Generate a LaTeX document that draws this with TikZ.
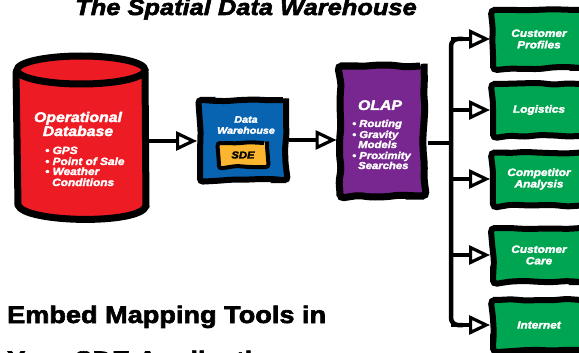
\documentclass[tikz,border=0pt]{standalone}
\usepackage{fontspec}
\setmainfont{Liberation Sans}[BoldFeatures={FakeBold=2.5,FakeStretch=1.13},BoldItalicFeatures={FakeBold=2.5,FakeStretch=1.13}]
\usetikzlibrary{arrows.meta,decorations.pathmorphing,calc}
\definecolor{dbred}{HTML}{ED1C24}
\definecolor{dwblue}{HTML}{0864B1}
\definecolor{sdeyel}{HTML}{FBB52E}
\definecolor{olappur}{HTML}{77278F}
\definecolor{ggreen}{HTML}{00A551}
\tikzset{
  sketch/.style={decorate, decoration={random steps, segment length=14pt, amplitude=1.1pt}},
  gbox/.style={fill=ggreen, draw=black, line width=6pt, rounded corners=4pt, minimum width=92pt,
    inner sep=0pt, text=white, font=\bfseries\itshape\fontsize{10.5}{11.5}\selectfont, align=center},
  arr/.style={line width=4.5pt, -{Triangle[open, length=21pt, width=19pt, line width=3.2pt]}},
  busline/.style={line width=4.5pt, rounded corners=7pt},
  wtxt/.style={text=white, font=\bfseries\itshape, align=left, inner sep=0pt},
}
\begin{document}
\pgfmathsetseed{7}
\begin{tikzpicture}[x=1pt, y=-1pt]
\useasboundingbox (0,0) rectangle (579,353);
\clip (0,0) rectangle (579,353);
% title
\node[anchor=base, font=\bfseries\itshape\fontsize{22.5}{22.5}\selectfont, inner sep=0] (title) at (246,15) {The Spatial Data Warehouse};
% operational database cylinder
\fill[dbred] (16,70) -- (17,205) .. controls (22,224) and (140,226) .. (146,206) -- (146,70) arc[start angle=0, end angle=-180, x radius=65, y radius=15] -- cycle;
\draw[line width=7pt, line cap=round] (16,72) -- (18,205) .. controls (24,223) and (140,225) .. (146,206) -- (145,72);
\draw[line width=7pt] (81,70) ellipse [x radius=64, y radius=14];
\node[minimum width=132pt, minimum height=165pt, inner sep=0] (db) at (81,139) {};
\node[wtxt, align=center, font=\bfseries\itshape\fontsize{14}{14}\selectfont, anchor=base] (dbt1) at (78,122) {Operational};
\node[wtxt, align=center, font=\bfseries\itshape\fontsize{14}{14}\selectfont, anchor=base] (dbt2) at (78,136) {Database};
\node[wtxt, font=\bfseries\itshape\fontsize{10.5}{10.5}\selectfont, anchor=base west] (dbb1) at (45,154) {\textbullet\ GPS};
\node[wtxt, font=\bfseries\itshape\fontsize{10.5}{10.5}\selectfont, anchor=base west] (dbb2) at (45,165) {\textbullet\ Point of Sale};
\node[wtxt, font=\bfseries\itshape\fontsize{10.5}{10.5}\selectfont, anchor=base west] (dbb3) at (45,175) {\textbullet\ Weather};
\node[wtxt, font=\bfseries\itshape\fontsize{10.5}{10.5}\selectfont, anchor=base west] (dbb4) at (52,186) {Conditions};
% data warehouse
\node[sketch, fill=dwblue, draw=black, line width=6pt, rounded corners=3pt, minimum width=86pt, minimum height=80pt, inner sep=0] (dw) at (243,140) {};
\node[wtxt, align=center, font=\bfseries\itshape\fontsize{9.5}{11}\selectfont] (dwt) at (246,125) {Data\\Warehouse};
\node[sketch, fill=sdeyel, draw=black, line width=4pt, rounded corners=3pt, minimum width=48pt, minimum height=24pt, inner sep=0,
  font=\bfseries\itshape\fontsize{10}{10}\selectfont] (sde) at (243,155) {SDE};
% OLAP
\node[sketch, fill=olappur, draw=black, line width=7pt, rounded corners=4pt, minimum width=84pt, minimum height=130pt, inner sep=0] (olap) at (382,131) {};
\node[wtxt, font=\bfseries\itshape\fontsize{14}{14}\selectfont, anchor=base] (olapt) at (380,110) {OLAP};
\node[wtxt, font=\bfseries\itshape\fontsize{10}{10}\selectfont, anchor=base west] (ob1) at (352,127) {\textbullet\ Routing};
\node[wtxt, font=\bfseries\itshape\fontsize{10}{10}\selectfont, anchor=base west] (ob2) at (352,138) {\textbullet\ Gravity};
\node[wtxt, font=\bfseries\itshape\fontsize{10}{10}\selectfont, anchor=base west] (ob3) at (358,148) {Models};
\node[wtxt, font=\bfseries\itshape\fontsize{10}{10}\selectfont, anchor=base west] (ob4) at (352,159) {\textbullet\ Proximity};
\node[wtxt, font=\bfseries\itshape\fontsize{10}{10}\selectfont, anchor=base west] (ob5) at (358,169) {Searches};
% green targets
\node[gbox, sketch, minimum height=58pt] (cp) at (539,39) {Customer\\Profiles};
\node[gbox, sketch, minimum height=52pt] (log) at (539,110) {Logistics};
\node[gbox, sketch, minimum height=53pt] (comp) at (539,179) {Competitor\\Analysis};
\node[gbox, sketch, minimum height=54pt] (care) at (539,255) {Customer\\Care};
\node[gbox, sketch, minimum height=50pt] (inet) at (539,325) {Internet};
% connectors
\draw[arr] (db.east |- 0,141) -- (dw.west |- 0,141);
\draw[arr] (dw.east |- 0,140) -- (olap.west |- 0,140);
\coordinate (bus) at (451,143);
\draw[line width=4.5pt] (olap.east |- bus) -- (bus);
\draw[busline] ([xshift=12pt]bus |- cp.west) -| (bus |- inet.west) -- ([xshift=12pt]bus |- inet.west);
\draw[arr] (bus |- cp.west) -- (cp.west);
\draw[arr] (bus |- log.west) -- (log.west);
\draw[arr] (bus |- comp.west) -- (comp.west);
\draw[arr] (bus |- care.west) -- (care.west);
\draw[arr] (bus |- inet.west) -- (inet.west);
% bottom text
\node[anchor=base west, font=\bfseries\fontsize{24}{24}\selectfont, inner sep=0] (emb1) at (7,323) {Embed Mapping Tools in};
\node[anchor=base west, font=\bfseries\fontsize{24}{24}\selectfont, inner sep=0] (emb2) at (7,368) {Your SDE Applications};
\end{tikzpicture}
\end{document}
